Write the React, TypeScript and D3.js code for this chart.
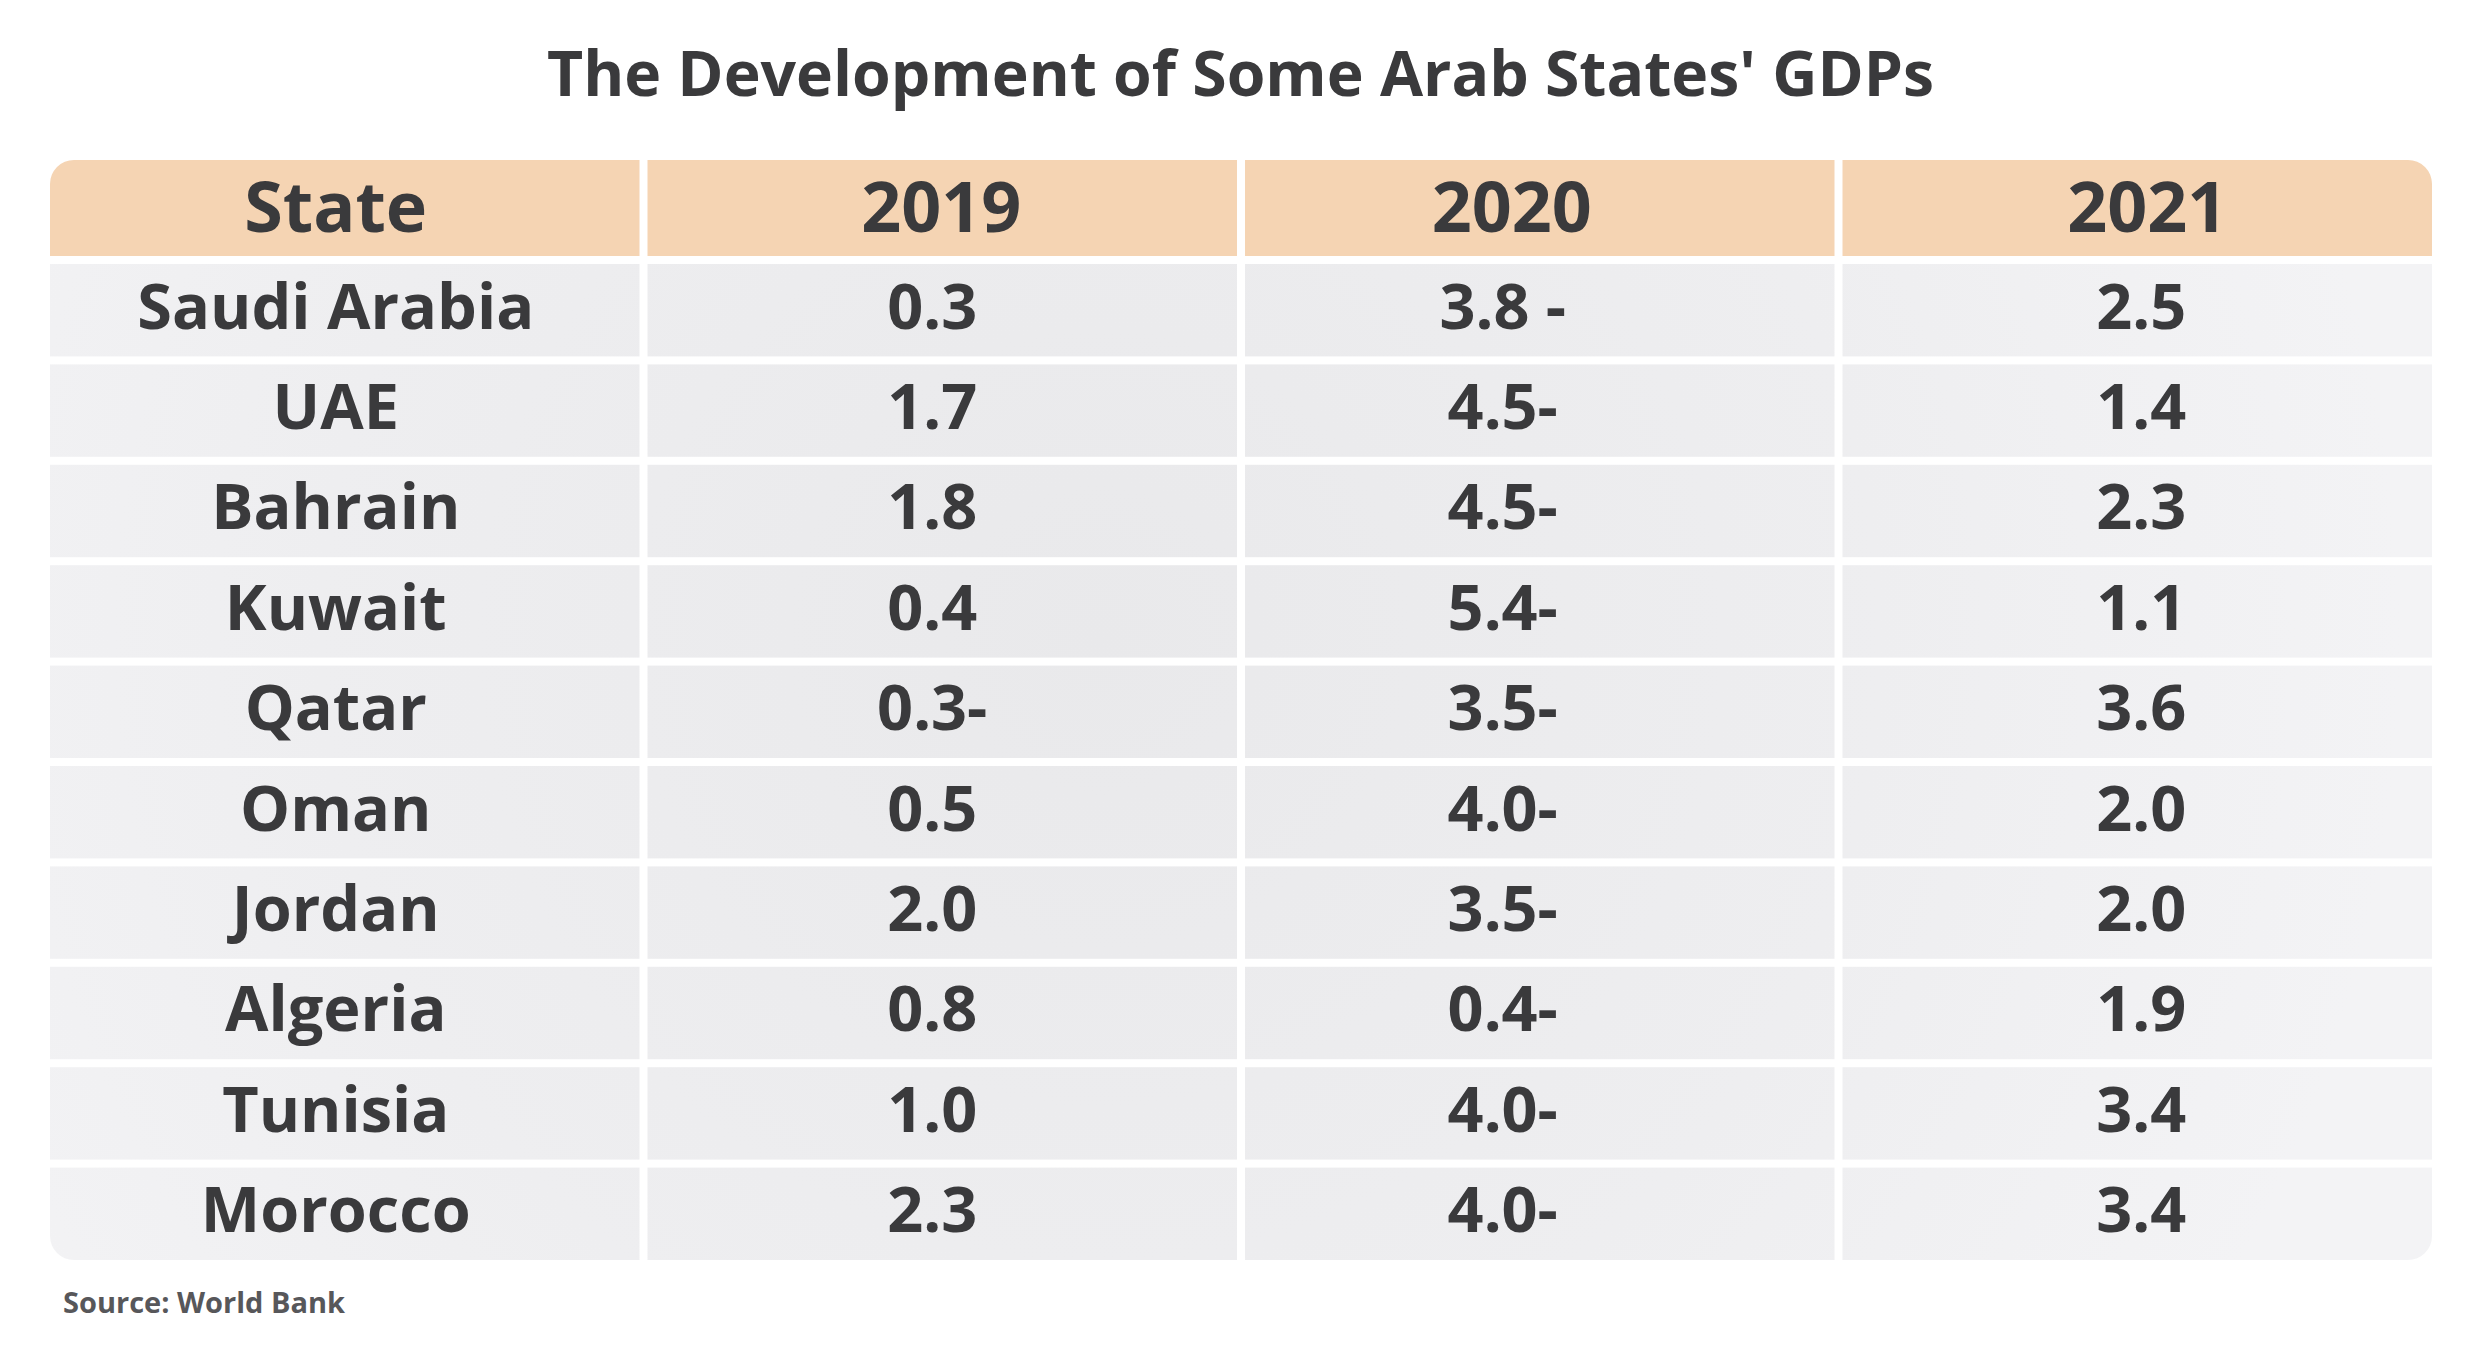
import React from "react";
import * as d3 from "d3";

const title = "The Development of Some Arab States' GDPs";
const source = "Source: World Bank";
const columns = ["State", "2019", "2020", "2021"];
const states = ["Saudi Arabia", "UAE", "Bahrain", "Kuwait", "Qatar", "Oman", "Jordan", "Algeria", "Tunisia", "Morocco"];
const gdp2019 = ["0.3", "1.7", "1.8", "0.4", "0.3-", "0.5", "2.0", "0.8", "1.0", "2.3"];
const gdp2020 = ["3.8 -", "4.5-", "4.5-", "5.4-", "3.5-", "4.0-", "3.5-", "0.4-", "4.0-", "4.0-"];
const gdp2021 = ["2.5", "1.4", "2.3", "1.1", "3.6", "2.0", "2.0", "1.9", "3.4", "3.4"];

const W = 2481;
const H = 1347;
const FONT = "'Open Sans', 'Noto Sans', sans-serif";
const TEXT = "#3a3a3c";
const HEADER_FILL = "#f5d4b3";

// layout
const tableLeft = 50;
const tableRight = 2432;
const tableTop = 160;
const headerBottom = 256;
const bodyTop = 264;
const tableBottom = 1260;
const GAP = 8;
const RADIUS = 24;
const headerOffsets = [-9, -1, -28, 10];
const dataOffsets = [-9, -10, -37, 4];

export default function App() {
  const rows = states.map((s, i) => [s, gdp2019[i], gdp2020[i], gdp2021[i]]);

  const x = d3
    .scaleBand<number>()
    .domain(d3.range(columns.length))
    .range([tableLeft, tableRight])
    .paddingInner(GAP / ((tableRight - tableLeft + GAP) / columns.length));

  const y = d3
    .scaleBand<number>()
    .domain(d3.range(rows.length))
    .range([bodyTop, tableBottom])
    .paddingInner(GAP / ((tableBottom - bodyTop + GAP) / rows.length));

  const headerH = headerBottom - tableTop;
  const dataFont = 63;
  const headerFont = 70;

  return (
    <svg
      width={W}
      height={H}
      viewBox={`0 0 ${W} ${H}`}
      style={{ position: "absolute", left: 0, top: 0, background: "#ffffff" }}
    >
      <defs>
        <clipPath id="tableClip">
          <rect
            x={tableLeft}
            y={tableTop}
            width={tableRight - tableLeft}
            height={tableBottom - tableTop}
            rx={RADIUS}
            ry={RADIUS}
          />
        </clipPath>
        <radialGradient
          id="cellGrad"
          gradientUnits="userSpaceOnUse"
          cx={1100}
          cy={640}
          r={1300}
        >
          <stop offset="0" stopColor="#e9e9eb" />
          <stop offset="0.6" stopColor="#eeeef0" />
          <stop offset="1" stopColor="#f3f3f5" />
        </radialGradient>
      </defs>
      <rect x={0} y={0} width={W} height={H} fill="#ffffff" />

      <text
        x={W / 2}
        y={96}
        textAnchor="middle"
        fontFamily={FONT}
        fontWeight={700}
        fontSize={62.5}
        fill={TEXT}
      >
        {title}
      </text>

      <g clipPath="url(#tableClip)">
        {columns.map((c, j) => (
          <rect
            key={"h" + j}
            x={x(j)}
            y={tableTop}
            width={x.bandwidth()}
            height={headerH}
            fill={HEADER_FILL}
          />
        ))}
        {rows.map((r, i) =>
          r.map((_, j) => (
            <rect
              key={`c${i}-${j}`}
              x={x(j)}
              y={y(i)}
              width={x.bandwidth()}
              height={y.bandwidth()}
              fill="url(#cellGrad)"
            />
          ))
        )}
      </g>

      {columns.map((c, j) => (
        <text
          key={"ht" + j}
          x={(x(j) as number) + x.bandwidth() / 2 + headerOffsets[j]}
          y={tableTop + headerH / 2 + headerFont * 0.357 - 1}
          textAnchor="middle"
          fontFamily={FONT}
          fontWeight={700}
          fontSize={headerFont}
          fill={TEXT}
        >
          {c}
        </text>
      ))}

      {rows.map((r, i) =>
        r.map((v, j) => (
          <text
            key={`t${i}-${j}`}
            x={(x(j) as number) + x.bandwidth() / 2 + dataOffsets[j]}
            y={(y(i) as number) + y.bandwidth() / 2 + dataFont * 0.357 - 4}
            textAnchor="middle"
            fontFamily={FONT}
            fontWeight={700}
            fontSize={dataFont}
            fill={TEXT}
          >
            {v}
          </text>
        ))
      )}

      <text
        x={63}
        y={1313}
        fontFamily={FONT}
        fontWeight={700}
        fontSize={29}
        fill="#57575a"
      >
        {source}
      </text>
    </svg>
  );
}
